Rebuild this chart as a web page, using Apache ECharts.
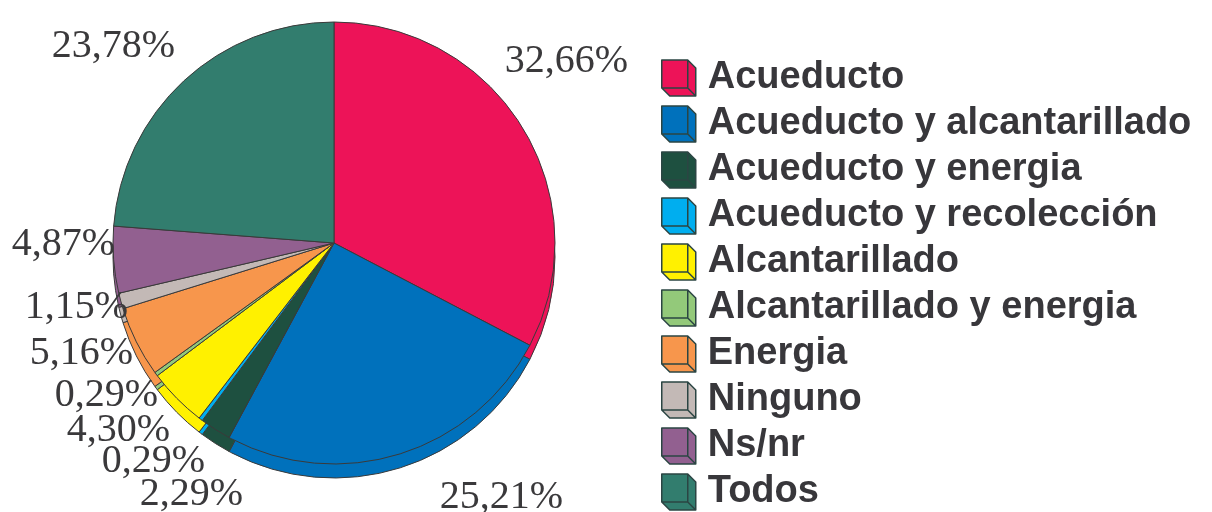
<!DOCTYPE html>
<html>
<head>
<meta charset="utf-8">
<script src="https://cdn.jsdelivr.net/npm/echarts@6/dist/echarts.min.js"></script>
<style>
  html, body { margin: 0; padding: 0; background: #fff; }
  #main { width: 1212px; height: 512px; }
</style>
</head>
<body>
<div id="main"></div>
<script>
// categorias y porcentajes
var categorias = ['Acueducto', 'Acueducto y alcantarillado', 'Acueducto y energia', 'Acueducto y recolección',
  'Alcantarillado', 'Alcantarillado y energia', 'Energia', 'Ninguno', 'Ns/nr', 'Todos'];
var porcentajes = [32.66, 25.21, 2.29, 0.29, 4.30, 0.29, 5.16, 1.15, 4.87, 23.78];
var colores = ['#ED1358', '#0071BC', '#1E5040', '#00AEEF', '#FFF100', '#93C97A', '#F7964C', '#C3B9B6', '#926090', '#327D6E'];

// donde va cada etiqueta (borde derecho, centro vertical)
var posEtiquetas = [[628, 61], [563, 497], [243, 494], [205, 461], [170, 430], [158, 395], [133, 353], [128, 307], [115, 244], [175, 46]];

var datos = categorias.map(function (c, i) {
  return { name: c, value: porcentajes[i], itemStyle: { color: colores[i] } };
});

var chart = echarts.init(document.getElementById('main'));
var cubo = 'path://M0,0L26,0L34,8L34,36L8,36L0,28Z M26,0L26,28 M0,28L26,28L34,36';

chart.setOption({
  animation: false,
  legend: {
    orient: 'vertical',
    left: 661,
    top: 59,
    padding: 0,
    itemWidth: 34,
    itemHeight: 36,
    itemGap: 8,
    icon: cubo,
    itemStyle: { borderColor: '#2b4543', borderWidth: 1.5 },
    textStyle: {
      fontFamily: 'Liberation Sans',
      fontWeight: 'bold',
      fontSize: 38,
      lineHeight: 36,
      color: '#38373b',
      padding: [0, 0, 0, 7]
    },
    data: categorias
  },
  series: [
    {
      // canto del pastel (efecto 3D)
      type: 'pie',
      silent: true,
      center: [334, 257],
      radius: 221,
      startAngle: 90,
      label: { show: false },
      labelLine: { show: false },
      itemStyle: { borderColor: '#3a3a3a', borderWidth: 1 },
      z: 1,
      data: datos
    },
    {
      type: 'pie',
      center: [334, 243],
      radius: 221,
      startAngle: 90,
      z: 2,
      itemStyle: { borderColor: '#3a3a3a', borderWidth: 1 },
      label: {
        show: true,
        position: 'outside',
        overflow: 'none',
        edgeDistance: 0,
        fontFamily: 'Liberation Serif',
        fontSize: 40,
        color: '#3a393b',
        formatter: function (p) {
          return p.value.toFixed(2).replace('.', ',') + '%';
        }
      },
      labelLine: { show: false },
      labelLayout: function (params) {
        var p = posEtiquetas[params.dataIndex];
        return { x: p[0], y: p[1], align: 'right', verticalAlign: 'middle', hideOverlap: false, moveOverlap: false };
      },
      data: datos
    }
  ]
});
</script>
</body>
</html>
